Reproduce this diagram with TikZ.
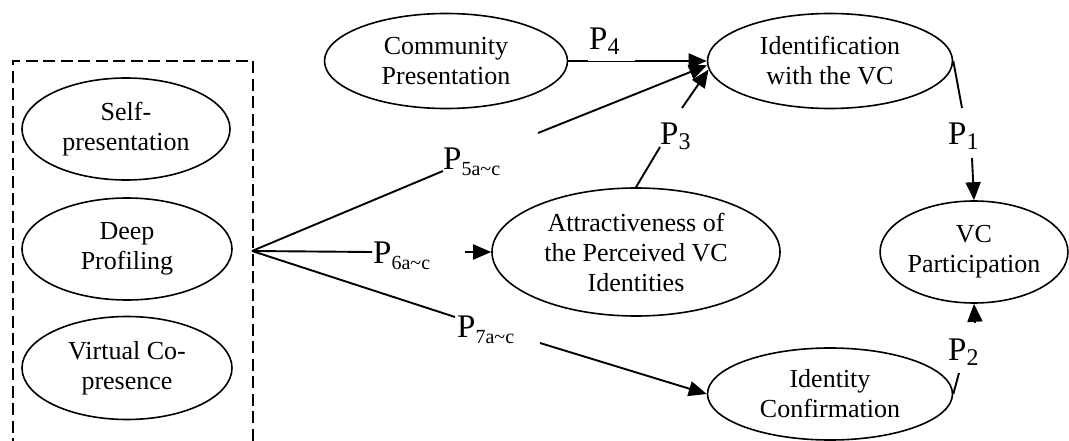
\documentclass[tikz,border=0pt]{standalone}
\usepackage{fontspec}
\setmainfont{Liberation Serif}
\usetikzlibrary{shapes.geometric,arrows.meta}

% path labels: large P with a lowered index
\newcommand\pidx[1]{{\fontsize{33}{33}\selectfont P}\raisebox{-5pt}{\fontsize{24}{24}\selectfont #1}}
\newcommand\pidxr[1]{{\fontsize{33}{33}\selectfont P}\raisebox{-6pt}{\fontsize{20}{20}\selectfont #1a\textasciitilde c}}

\begin{document}
\begin{tikzpicture}[x=1pt,y=-1pt,
  every node/.style={inner sep=0pt},
  oval/.style={ellipse, draw, line width=1.6pt, align=center,
               font=\fontsize{26}{30}\selectfont},
  link/.style={line width=1.9pt},
  arrow/.style={link, -{Triangle[length=18pt,width=15pt]}},
  plab/.style={anchor=base west},
  group/.style={draw, line width=1.9pt, dash pattern=on 12pt off 5.5pt}]
\clip (0,0) rectangle (1069,441);

% grouped antecedents
\node[group, anchor=north west, minimum width=240pt, minimum height=420pt] (grp) at (12,60) {};
\node[oval, minimum width=208pt, minimum height=102pt] (sp) at (126,129) {Self-\\presentation};
\node[oval, minimum width=210pt, minimum height=102pt] (dp) at (127,249) {Deep\\Profiling};
\node[oval, minimum width=210pt, minimum height=103pt] (vco) at (127,368) {Virtual Co-\\presence};
\coordinate (j) at (252,251);

% constructs
\node[oval, minimum width=243pt, minimum height=95pt] (cp) at (446,61) {Community\\Presentation};
\node[oval, minimum width=245pt, minimum height=95pt] (idn) at (830,61) {Identification\\with the VC};
\node[oval, minimum width=288pt, minimum height=128pt] (attr) at (636,252) {Attractiveness of\\the Perceived VC\\Identities};
\node[oval, minimum width=245pt, minimum height=92pt] (ic) at (830,394) {Identity\\Confirmation};
\node[oval, minimum width=184pt, minimum height=102pt] (part) at (974,252) {VC\\Participation};

% path labels
\node[plab] (p1) at (948,145) {\pidx{1}};
\node[plab] (p2) at (948,360) {\pidx{2}};
\node[plab] (p3) at (660,145) {\pidx{3}};
\node[plab] (p4) at (589,50) {\pidx{4}};
\node[plab] (p5) at (443,170) {\pidxr{5}};
\node[plab] (p6) at (373,263) {\pidxr{6}};
\node[plab] (p7) at (457,337) {\pidxr{7}};

% ends of the line pieces beside the labels
\coordinate (g1a) at (962,108);  \coordinate (g1b) at (972,158);
\coordinate (g2a) at (959,373);  \coordinate (g2b) at (975,323);
\coordinate (g3a) at (660,147);  \coordinate (g3b) at (682,108);
\coordinate (g5a) at (443,171);  \coordinate (g5b) at (538,133);
\coordinate (g6a) at (372,252);  \coordinate (g6b) at (465,252);
\coordinate (g7a) at (455,317);  \coordinate (g7b) at (540,343);

% connectors
\draw[arrow] (cp.east) -- (idn.west);
\fill[white] (588,59) rectangle (635,60.9);
\draw[link] (j) -- (g5a);  \draw[arrow] (g5b) -- (idn.182);
\draw[link] (attr.north) -- (g3a);  \draw[arrow] (g3b) -- (idn.184);
\draw[link] (j) -- (g6a);  \draw[arrow] (g6b) -- (attr.west);
\draw[link] (j) -- (g7a);  \draw[arrow] (g7b) -- (ic.west);
\draw[link] (idn.east) -- (g1a);  \draw[arrow] (g1b) -- (part.north);
\draw[link] (ic.east) -- (g2a);  \draw[arrow] (g2b) -- (part.south);
\end{tikzpicture}
\end{document}
